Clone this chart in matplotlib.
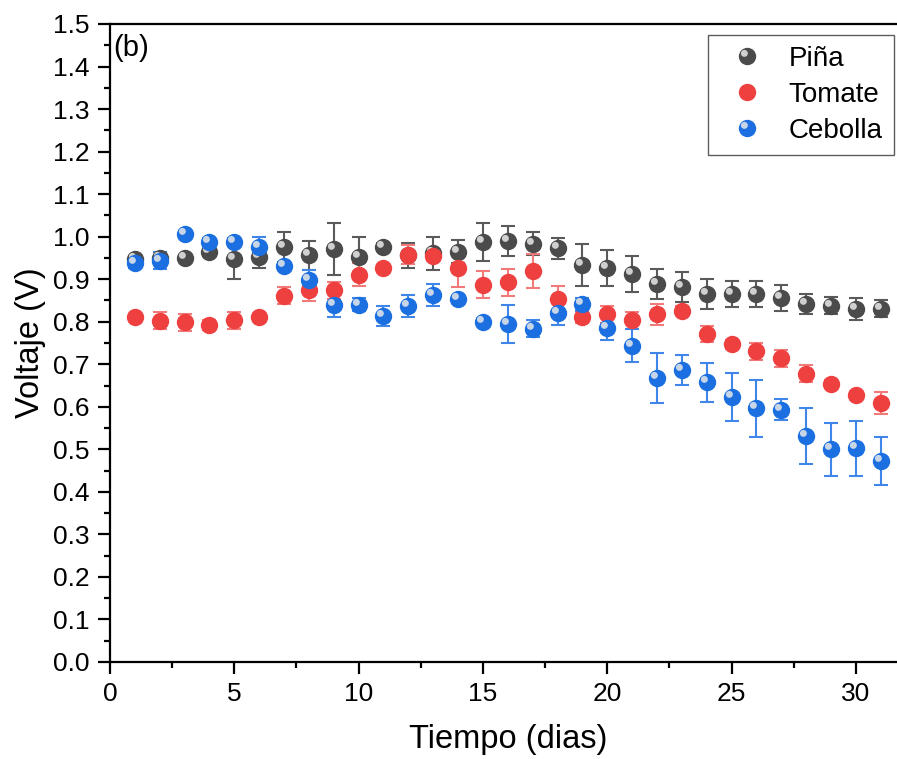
import numpy as np
import matplotlib
matplotlib.use("Agg")
import matplotlib.pyplot as plt
from matplotlib.markers import MarkerStyle
from matplotlib.transforms import Affine2D
from matplotlib.legend_handler import HandlerTuple
from matplotlib.ticker import MultipleLocator, FormatStrFormatter

plt.rcParams['font.family'] = ['Liberation Sans', 'DejaVu Sans']

dias = list(range(1, 32))

pina = [0.947, 0.950, 0.949, 0.963, 0.947, 0.952, 0.975, 0.956, 0.970, 0.953,
        0.976, 0.956, 0.961, 0.965, 0.987, 0.990, 0.983, 0.973, 0.933, 0.926,
        0.912, 0.889, 0.882, 0.865, 0.865, 0.865, 0.856, 0.842, 0.837, 0.830, 0.830]
pina_err = [0.006, 0.008, 0.005, 0.006, 0.046, 0.026, 0.035, 0.034, 0.061, 0.046,
            0.008, 0.030, 0.039, 0.028, 0.045, 0.036, 0.027, 0.025, 0.050, 0.042,
            0.042, 0.036, 0.035, 0.035, 0.030, 0.030, 0.030, 0.024, 0.020, 0.025, 0.020]

tomate = [0.810, 0.802, 0.799, 0.793, 0.803, 0.810, 0.861, 0.874, 0.874, 0.910,
          0.926, 0.958, 0.955, 0.927, 0.887, 0.893, 0.920, 0.854, 0.812, 0.817,
          0.803, 0.817, 0.826, 0.771, 0.747, 0.730, 0.714, 0.678, 0.654, 0.628, 0.608]
tomate_err = [0.005, 0.020, 0.020, 0.012, 0.020, 0.005, 0.020, 0.025, 0.020, 0.027,
              0.008, 0.023, 0.010, 0.045, 0.032, 0.032, 0.040, 0.031, 0.015, 0.021,
              0.020, 0.025, 0.010, 0.019, 0.010, 0.019, 0.020, 0.020, 0.010, 0.005, 0.026]

cebolla = [0.937, 0.943, 1.006, 0.988, 0.987, 0.976, 0.931, 0.897, 0.839, 0.840,
           0.814, 0.837, 0.863, 0.853, 0.800, 0.794, 0.784, 0.820, 0.841, 0.786,
           0.744, 0.668, 0.686, 0.658, 0.623, 0.596, 0.593, 0.531, 0.500, 0.502, 0.473]
cebolla_err = [0.010, 0.020, 0.005, 0.008, 0.010, 0.024, 0.008, 0.025, 0.027, 0.015,
               0.023, 0.025, 0.025, 0.008, 0.008, 0.045, 0.020, 0.027, 0.015, 0.030,
               0.038, 0.059, 0.035, 0.046, 0.057, 0.068, 0.025, 0.066, 0.062, 0.064, 0.057]

series = [
    ('Piña', pina, pina_err, '#4b4b4b', '#5a5a5a', True),
    ('Tomate', tomate, tomate_err, '#ef4040', '#f27a7a', False),
    ('Cebolla', cebolla, cebolla_err, '#1b6fe0', '#3f86e8', True),
]

fig = plt.figure(figsize=(8.97, 7.59), dpi=100)
# right spine is cut off by the figure edge like in the original
ax = fig.add_axes([0.1226, 0.1278, 0.887, 0.8406])

hl = MarkerStyle('o', transform=Affine2D().translate(-0.45, 0.45))

handles = []
for k, (name, vals, err, col, ecol, shine) in enumerate(series):
    ax.errorbar(dias, vals, yerr=err, fmt='none', ecolor=ecol, elinewidth=1.5,
                capsize=5, capthick=1.5, zorder=2 + k * 0.1)
    base, = ax.plot(dias, vals, ls='none', marker='o', ms=11.5, color=col,
                    mec=col, zorder=3 + k)
    h = [base]
    if shine:
        glow, = ax.plot(dias, vals, ls='none', marker=hl, ms=5, color='#e8e8e8',
                        mec='none', alpha=0.85, zorder=3.5 + k)
        h.append(glow)
    handles.append(tuple(h))

ax.set_xlim(0, 32)
ax.set_ylim(0, 1.5)
ax.xaxis.set_major_locator(MultipleLocator(5))
ax.xaxis.set_minor_locator(MultipleLocator(2.5))
ax.yaxis.set_major_locator(MultipleLocator(0.1))
ax.yaxis.set_minor_locator(MultipleLocator(0.05))
ax.yaxis.set_major_formatter(FormatStrFormatter('%.1f'))

for s in ax.spines.values():
    s.set_linewidth(1.6)
ax.tick_params(which='major', direction='out', length=8.5, width=1.6,
               labelsize=19, pad=6, top=False, right=False)
ax.tick_params(which='minor', direction='out', length=4.5, width=1.6,
               top=False, right=False)

ax.set_xlabel('Tiempo (dias)', fontsize=23.5, labelpad=13)
ax.set_ylabel('Voltaje (V)', fontsize=23.5, labelpad=5)

ax.text(0.004, 0.985, '(b)', transform=ax.transAxes, fontsize=21,
        ha='left', va='top')

leg = fig.legend(handles, [s[0] for s in series],
                 handler_map={tuple: HandlerTuple(ndivide=1)},
                 loc='upper left', bbox_to_anchor=(708 / 897, 1 - 35 / 759),
                 borderaxespad=0, fontsize=20, frameon=True, fancybox=False,
                 handlelength=2.0, handletextpad=0.5, borderpad=0.4,
                 labelspacing=0.35)
leg.get_frame().set_edgecolor('#333333')
leg.get_frame().set_linewidth(1.0)

fig.savefig('out.png', dpi=100)
